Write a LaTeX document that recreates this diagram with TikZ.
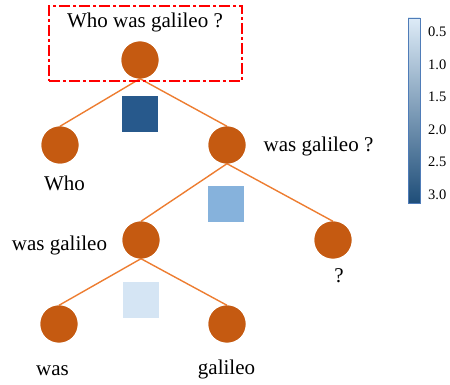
\documentclass[tikz,border=0pt]{standalone}
\usepackage{fontspec}
\setmainfont{Liberation Serif}
\definecolor{nodeor}{HTML}{C55A11}
\definecolor{lineor}{HTML}{ED7D31}
\definecolor{sqdark}{HTML}{27598C}
\definecolor{sqmid}{HTML}{86B2DC}
\definecolor{sqlight}{HTML}{D5E5F4}
\definecolor{cbtop}{HTML}{DDEBF7}
\definecolor{cbbot}{HTML}{1F4E79}
\definecolor{cbedge}{HTML}{4F7CB8}
\tikzset{
  tnode/.style={circle, fill=nodeor, draw=none, minimum size=37pt, inner sep=0pt},
  edge/.style={draw=lineor, line width=1.4pt},
  lbl/.style={anchor=base, inner sep=0pt, font=\fontsize{21}{25}\selectfont},
  cblbl/.style={anchor=west, inner sep=0pt, font=\fontsize{14.5}{17}\selectfont},
  attn/.style={minimum size=36pt, inner sep=0pt, draw=none},
}
\begin{document}
\begin{tikzpicture}[x=1pt,y=-1pt]
\useasboundingbox (0,0) rectangle (450,385);
% nodes
\node[tnode] (root) at (140,60) {};
\node[tnode] (who) at (60,145) {};
\node[tnode] (wgq) at (227,145) {};
\node[tnode] (wg) at (141,240) {};
\node[tnode] (q) at (333,240) {};
\node[tnode] (was) at (59,324) {};
\node[tnode] (gal) at (227,324) {};
% edges
\draw[edge] (root.south) -- (who.north);
\draw[edge] (root.south) -- (wgq.north);
\draw[edge] (wgq.south) -- (wg.north);
\draw[edge] (wgq.south) -- (q.north);
\draw[edge] (wg.south) -- (was.north);
\draw[edge] (wg.south) -- (gal.north);
% redraw circles on top
\foreach \n in {root,who,wgq,wg,q,was,gal} {\fill[nodeor] (\n.center) circle (18.5pt);}
% attention squares
\node[attn, fill=sqdark] (s1) at (140,114) {};
\node[attn, fill=sqmid] (s2) at (226,204) {};
\node[attn, fill=sqlight] (s3) at (141,300) {};
% red dash-dot box
\node[draw=red, line width=1.4pt, dash pattern=on 11pt off 3pt on 3pt off 3pt,
      minimum width=193pt, minimum height=75pt, inner sep=0pt] (box) at (145.5,43.5) {};
% labels
\node[lbl] (t0) at (145,28) {Who was galileo ?};
\node[lbl] (t1) at (64.5,190) {Who};
\node[lbl] (t2) at (318.5,152) {was galileo ?};
\node[lbl] (t3) at (59.5,250) {was galileo};
\node[lbl] (t4) at (339,282) {?};
\node[lbl] (t5) at (52.5,375) {was};
\node[lbl] (t6) at (226.5,374) {galileo};
% colorbar
\shade[top color=cbtop, bottom color=cbbot] (408,18) rectangle (420,203);
\draw[cbedge, line width=0.8pt] (408,18) rectangle (420,203);
\node[cblbl] (c1) at (428,32) {0.5};
\node[cblbl] (c2) at (428,64.5) {1.0};
\node[cblbl] (c3) at (428,97) {1.5};
\node[cblbl] (c4) at (428,129.5) {2.0};
\node[cblbl] (c5) at (428,162) {2.5};
\node[cblbl] (c6) at (428,195) {3.0};
\end{tikzpicture}
\end{document}
